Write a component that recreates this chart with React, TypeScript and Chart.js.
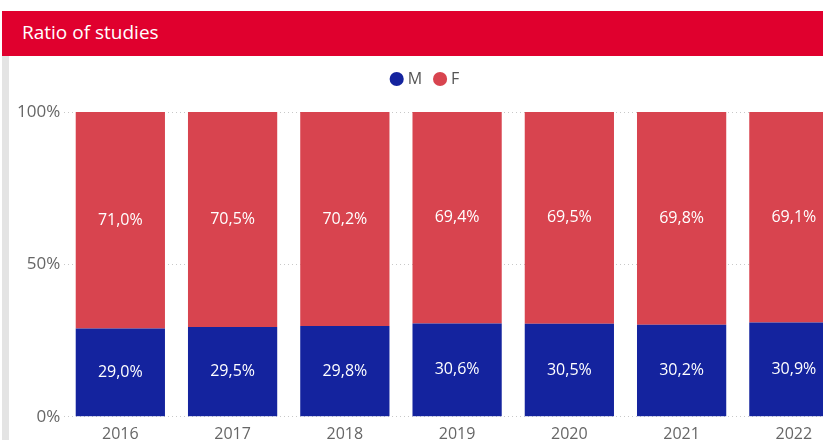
import React, { useEffect, useRef } from "react";
import { Chart, registerables } from "chart.js";

Chart.register(...registerables);

const years = ["2016", "2017", "2018", "2019", "2020", "2021", "2022"];
const maleShare = [29.0, 29.5, 29.8, 30.6, 30.5, 30.2, 30.9];
const femaleShare = [71.0, 70.5, 70.2, 69.4, 69.5, 69.8, 69.1];
const yTicks = [0, 50, 100];

const FONT = "'Open Sans', 'Noto Sans', sans-serif";
const BLUE = "#14239E";
const RED = "#D8444F";

const labelPlugin = {
  id: "segmentLabels",
  afterDatasetsDraw(chart: any) {
    const ctx = chart.ctx;
    ctx.save();
    ctx.fillStyle = "#ffffff";
    ctx.font = `16px ${FONT}`;
    ctx.textAlign = "center";
    ctx.textBaseline = "middle";
    chart.data.datasets.forEach((ds: any, di: number) => {
      const meta = chart.getDatasetMeta(di);
      meta.data.forEach((bar: any, i: number) => {
        const v = ds.data[i] as number;
        const txt = v.toFixed(1).replace(".", ",") + "%";
        ctx.fillText(txt, bar.x, (bar.y + bar.base) / 2);
      });
    });
    ctx.restore();
  },
};

const legendPlugin = {
  id: "legendTweak",
  afterInit(chart: any) {
    const legend = chart.legend;
    if (!legend) return;
    const fit = legend.fit;
    legend.fit = function () {
      fit.call(this);
      this.height += 15;
    };
  },
  afterLayout(chart: any) {
    const legend = chart.legend;
    if (!legend) return;
    legend.left -= 5;
    legend.right -= 5;
  },
};

export default function App() {
  const ref = useRef<HTMLCanvasElement>(null);
  useEffect(() => {
    if (!ref.current) return;
    const chart = new Chart(ref.current, {
      type: "bar",
      data: {
        labels: years,
        datasets: [
          { label: "M", data: maleShare, backgroundColor: BLUE, borderWidth: 0 },
          { label: "F", data: femaleShare, backgroundColor: RED, borderWidth: 0 },
        ],
      },
      options: {
        responsive: false,
        animation: false,
        layout: { padding: { left: 13, right: 0, top: 0, bottom: 0 } },
        datasets: { bar: { categoryPercentage: 1, barPercentage: 0.795 } },
        plugins: {
          legend: {
            position: "top",
            labels: {
              usePointStyle: true,
              pointStyle: "circle",
              boxWidth: 6,
              boxHeight: 10,
              padding: 15,
              color: "#555",
              font: { family: FONT, size: 16 },
            },
          },
          tooltip: { enabled: false },
        },
        scales: {
          x: {
            stacked: true,
            grid: { display: false },
            border: { display: false },
            ticks: { color: "#666", font: { family: FONT, size: 16 }, padding: 0 },
          },
          y: {
            stacked: true,
            min: 0,
            max: 100,
            afterBuildTicks: (axis: any) => {
              axis.ticks = yTicks.map((v) => ({ value: v }));
            },
            grid: { color: "#c8c8c8", drawTicks: false, lineWidth: 1 },
            border: { display: false, dash: [1, 3] },
            ticks: {
              color: "#666",
              font: { family: FONT, size: 17 },
              padding: 4,
              callback: (v: any) => v + "%",
            },
          },
        },
      },
      plugins: [labelPlugin, legendPlugin],
    });
    return () => chart.destroy();
  }, []);

  return (
    <div
      style={{
        position: "fixed",
        left: 0,
        top: 0,
        width: 823,
        height: 440,
        overflow: "hidden",
        background: "#fff",
        fontFamily: FONT,
      }}
    >
      <div
        style={{
          position: "absolute",
          left: 2,
          top: 11,
          width: 821,
          height: 45,
          background: "#E0002E",
          color: "#fff",
          fontSize: 19,
          lineHeight: "42px",
          paddingLeft: 20,
          boxSizing: "border-box",
        }}
      >
        Ratio of studies
      </div>
      <div
        style={{
          position: "absolute",
          left: 2,
          top: 56,
          width: 7,
          height: 384,
          background: "#e4e4e4",
        }}
      />
      <canvas
        ref={ref}
        width={850}
        height={388}
        style={{ position: "absolute", left: 0, top: 56, width: 850, height: 388 }}
      />
    </div>
  );
}
